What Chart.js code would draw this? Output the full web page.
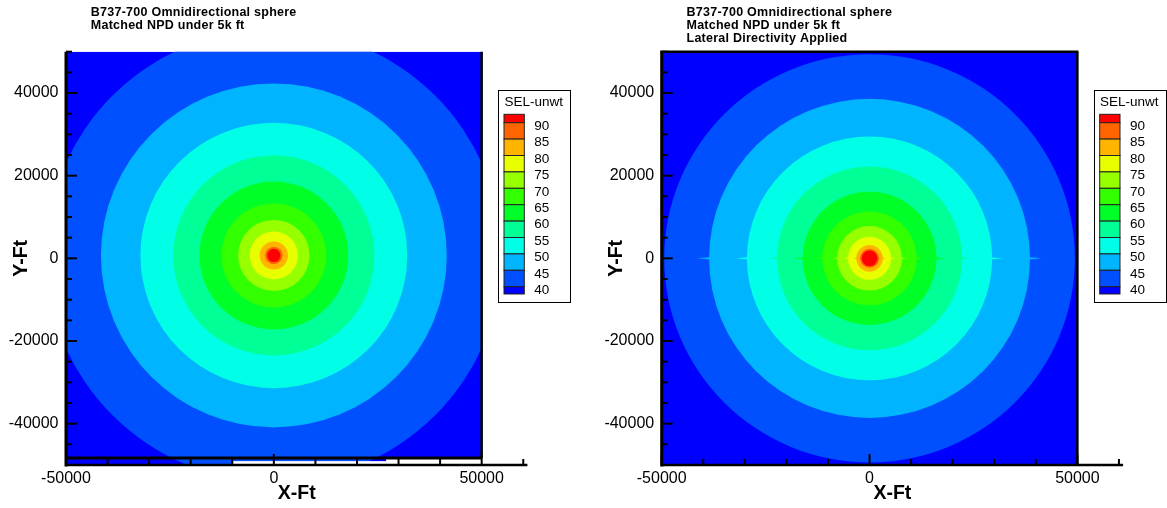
<!DOCTYPE html>
<html><head><meta charset="utf-8">
<script src="https://cdn.jsdelivr.net/npm/chart.js@4.4.1/dist/chart.umd.min.js"></script>
<style>
html,body{margin:0;padding:0;background:#fff;}
#wrap{position:relative;width:1167px;height:508px;overflow:hidden;background:#fff;}
canvas{position:absolute;top:0;}
</style></head><body>
<div id="wrap">
<canvas id="c1" width="583" height="508" style="left:0px"></canvas>
<canvas id="c2" width="584" height="508" style="left:583px"></canvas>
</div>
<script>
// ---- data ----
const contourLevels = [40, 45, 50, 55, 60, 65, 70, 75, 80, 85, 90];
// band colours: index 0 = below 40, index i = between level i-1 and level i, last = above 90
const bandColors = ['#0000FF','#0050FF','#00B4FF','#00FFE6','#00FF96','#00FF28','#32FF00','#96FF00','#E8FF00','#FFB400','#FF6400','#FF0000'];
// radius (ft) of each contour level, left plot (omnidirectional) and right plot (lateral directivity)
const leftRadiiFt  = [54800, 41600, 32100, 24200, 17900, 12600, 8600, 5800, 3400, 2100, 1600];
const rightRadiiFt = [49400, 38600, 29500, 22250, 16100, 11350, 7800, 5200, 3200, 2300, 1900];
const leftCenterFt  = {x: 0, y: 700};
const rightCenterFt = {x: 0, y: 0};
const xTickValues = [-50000, 0, 50000];
const yTickValues = [-40000, -20000, 0, 20000, 40000];
const leftTitleLines  = ['B737-700 Omnidirectional sphere', 'Matched NPD under 5k ft'];
const rightTitleLines = ['B737-700 Omnidirectional sphere', 'Matched NPD under 5k ft', 'Lateral Directivity Applied'];
const legendTitle = 'SEL-unwt';
const xAxisTitle = 'X-Ft';
const yAxisTitle = 'Y-Ft';
const gridDomain = {xMin: -50000, xMax: 50000, yMin: -50000, yMax: 50000};
const leftFrameBottomFt = -48300;

const FONT = '"Liberation Sans", Arial, Helvetica, sans-serif';

function line(ctx, x1, y1, x2, y2){ ctx.beginPath(); ctx.moveTo(x1,y1); ctx.lineTo(x2,y2); ctx.stroke(); }

const contourPlugin = {
  id: 'contours',
  beforeDatasetsDraw(chart, args, opts){
    const {ctx, scales:{x, y}} = chart;
    const L = x.getPixelForValue(gridDomain.xMin), R = x.getPixelForValue(gridDomain.xMax);
    const T = y.getPixelForValue(gridDomain.yMax), B = y.getPixelForValue(gridDomain.yMin);
    ctx.save();
    ctx.beginPath(); ctx.rect(L, T, R - L, B - T); ctx.clip();
    ctx.fillStyle = bandColors[0];
    ctx.fillRect(L, T, R - L, B - T);
    chart.data.datasets.forEach((ds, i) => {
      const p = ds.data[0];
      const cx = x.getPixelForValue(p.x), cy = y.getPixelForValue(p.y);
      const rx = Math.abs(x.getPixelForValue(p.x + ds.contourRadius) - cx);
      const ry = Math.abs(y.getPixelForValue(p.y + ds.contourRadius) - cy);
      ctx.fillStyle = ds.backgroundColor;
      ctx.beginPath(); ctx.ellipse(cx, cy, rx, ry, 0, 0, Math.PI * 2); ctx.fill();
      const s = opts.spikes ? (opts.spikes[i] || 0) : 0;
      if (s > 0) {
        ctx.beginPath(); ctx.moveTo(cx - rx + 3, cy - 1.4); ctx.lineTo(cx - rx - s, cy); ctx.lineTo(cx - rx + 3, cy + 1.4); ctx.closePath(); ctx.fill();
        ctx.beginPath(); ctx.moveTo(cx + rx - 3, cy - 1.4); ctx.lineTo(cx + rx + s, cy); ctx.lineTo(cx + rx - 3, cy + 1.4); ctx.closePath(); ctx.fill();
      }
    });
    ctx.restore();
  }
};

const decorPlugin = {
  id: 'decor',
  afterDraw(chart, args, opts){
    const {ctx, scales:{x, y}, chartArea} = chart;
    const px = v => x.getPixelForValue(v), py = v => y.getPixelForValue(v);
    const L = px(gridDomain.xMin), R = px(gridDomain.xMax), T = py(gridDomain.yMax), B = py(gridDomain.yMin);
    const AR = chartArea.right;
    ctx.save();
    ctx.strokeStyle = '#000';
    let FB = B;
    if (opts.frameBottom !== undefined && opts.frameBottom !== null) {
      FB = py(opts.frameBottom);
      ctx.fillStyle = '#fff';
      ctx.fillRect(px(-10000), FB + (B - FB) * 0.45, px(27000) - px(-10000), B - FB);
      ctx.fillRect(px(27000), FB, R - px(27000) + 2, B - FB + 1);
      ctx.lineWidth = 3;
      line(ctx, L, FB, R, FB);
    }
    // frame
    ctx.lineWidth = 2.5;
    line(ctx, R, T, R, FB);
    if (opts.topLine) line(ctx, L - 1.5, T, R + 1, T);
    // axes
    ctx.lineWidth = 3;
    line(ctx, L, T, L, B + 1.5);
    ctx.lineWidth = 2.5;
    line(ctx, L, B, AR, B);
    // inward ticks
    ctx.lineWidth = 2;
    for (let v = y.min; v <= y.max; v += 5000) {
      const len = (v % 20000 === 0) ? 11 : 6;
      line(ctx, L, py(v), L + len, py(v));
    }
    for (let v = -50000; v <= 60000; v += 10000) {
      const len = (v % 50000 === 0) ? 11 : 6;
      line(ctx, px(v), B, px(v), B - len);
    }
    // titles
    ctx.fillStyle = '#000';
    ctx.font = 'bold 12.5px ' + FONT;
    if ('letterSpacing' in ctx) ctx.letterSpacing = '0.25px';
    ctx.textAlign = 'left'; ctx.textBaseline = 'alphabetic';
    opts.titleLines.forEach((t, i) => ctx.fillText(t, chartArea.left + 24.8, 16.2 + i * 13.0));
    if ('letterSpacing' in ctx) ctx.letterSpacing = '0px';
    // legend
    const bx = chartArea.left + 432.3, by = 90, bw = 71.7, bh = 211.7;
    ctx.fillStyle = '#fff'; ctx.fillRect(bx, by, bw, bh);
    ctx.lineWidth = 1; ctx.strokeStyle = '#000';
    ctx.strokeRect(Math.round(bx) + 0.5, by + 0.5, Math.round(bw), Math.round(bh));
    ctx.fillStyle = '#000';
    ctx.font = '13.5px ' + FONT;
    ctx.textAlign = 'center'; ctx.textBaseline = 'middle';
    ctx.fillText(legendTitle, bx + bw / 2 - 0.5, by + 12.7);
    const sx = bx + 5.7, sw = 20.3, step = 16.4, firstB = 122.7, topY = 114.3, botH = 7.3;
    const n = contourLevels.length;
    for (let k = 0; k <= n; k++) {
      const top = k === 0 ? topY : firstB + (k - 1) * step;
      const bot = k === n ? firstB + (n - 1) * step + botH : firstB + k * step;
      ctx.fillStyle = bandColors[n - k];
      ctx.fillRect(sx, top, sw, bot - top);
      ctx.strokeStyle = '#222'; ctx.lineWidth = 1;
      ctx.strokeRect(sx, top, sw, bot - top);
    }
    ctx.fillStyle = '#000';
    ctx.textAlign = 'left';
    for (let k = 0; k < n; k++) {
      ctx.fillText(String(contourLevels[n - 1 - k]), bx + 36, firstB + k * step + 3.5);
    }
    ctx.restore();
  }
};

function makeChart(id, radii, center, titleLines, canvasW, areaLeft, yTitlePad, extra){
  const areaW = 461.4;
  return new Chart(document.getElementById(id), {
    type: 'scatter',
    data: {
      datasets: radii.map((r, i) => ({
        label: String(contourLevels[i]),
        data: [{x: center.x, y: center.y}],
        contourRadius: r,
        backgroundColor: bandColors[i + 1],
        pointRadius: 0,
        showLine: false
      }))
    },
    options: {
      responsive: false,
      devicePixelRatio: 1,
      animation: false,
      events: [],
      layout: {padding: {top: 51.7, right: canvasW - areaLeft - areaW, bottom: 0, left: 0}},
      plugins: {
        legend: {display: false},
        tooltip: {enabled: false},
        decor: Object.assign({titleLines: titleLines}, extra.decor),
        contours: extra.contours || {}
      },
      scales: {
        x: {
          type: 'linear', min: -50000, max: 61000,
          afterBuildTicks: s => { s.ticks = xTickValues.map(v => ({value: v})); },
          afterFit: s => { s.height = 43; },
          grid: {display: false, drawTicks: false},
          border: {display: false},
          ticks: {font: {family: FONT, size: 16}, color: '#000', padding: 3.5, maxRotation: 0, autoSkip: false, callback: v => String(v)},
          title: {display: true, text: xAxisTitle, color: '#000', font: {family: FONT, size: 19.5, weight: 'bold'}, padding: {top: 0, bottom: 2.3}}
        },
        y: {
          type: 'linear', min: -50000, max: 50000,
          afterBuildTicks: s => { s.ticks = yTickValues.map(v => ({value: v})); },
          afterFit: s => { s.width = areaLeft; },
          grid: {display: false, drawTicks: false},
          border: {display: false},
          ticks: {font: {family: FONT, size: 16}, color: '#000', padding: 7.5, autoSkip: false, callback: v => String(v)},
          title: {display: true, text: yAxisTitle, color: '#000', font: {family: FONT, size: 19.5, weight: 'bold'}, padding: {top: yTitlePad, bottom: 0}}
        }
      }
    },
    plugins: [contourPlugin, decorPlugin]
  });
}

makeChart('c1', leftRadiiFt, leftCenterFt, leftTitleLines, 583, 66, 10.3,
  {decor: {frameBottom: leftFrameBottomFt, topLine: false}, contours: {}});
makeChart('c2', rightRadiiFt, rightCenterFt, rightTitleLines, 584, 78.7, 22.0,
  {decor: {frameBottom: null, topLine: true}, contours: {spikes: [0, 12, 11, 8, 9, 6, 5, 4, 3, 0, 0]}});
</script>
</body></html>
